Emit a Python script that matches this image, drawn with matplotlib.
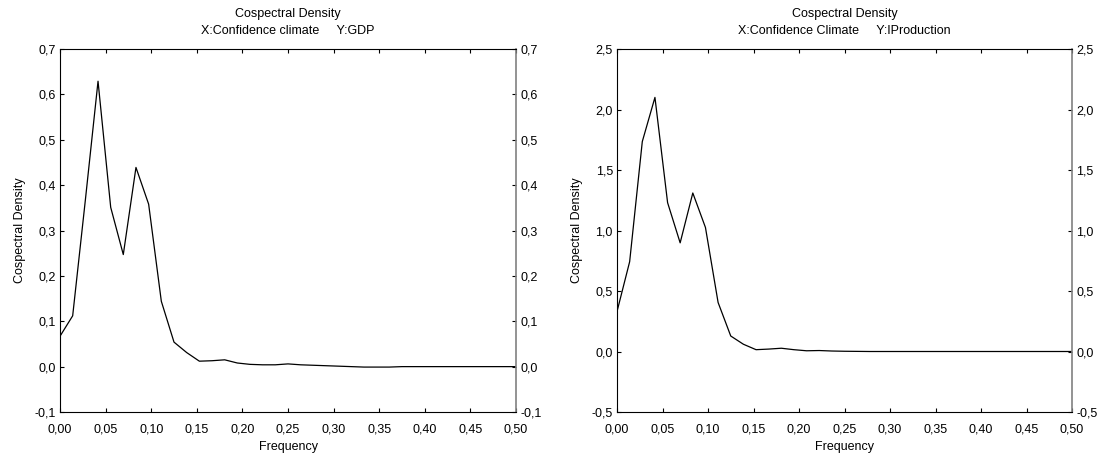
import matplotlib
matplotlib.use("Agg")
import matplotlib.pyplot as plt
from matplotlib.ticker import FuncFormatter

plt.rcParams["font.family"] = ["Liberation Sans", "DejaVu Sans"]
plt.rcParams["font.size"] = 9

# frequencies (k/72, k = 0..36)
freq = [0.0000, 0.0139, 0.0278, 0.0417, 0.0556, 0.0694, 0.0833, 0.0972, 0.1111,
        0.1250, 0.1389, 0.1528, 0.1667, 0.1806, 0.1944, 0.2083, 0.2222, 0.2361,
        0.2500, 0.2639, 0.2778, 0.2917, 0.3056, 0.3194, 0.3333, 0.3472, 0.3611,
        0.3750, 0.3889, 0.4028, 0.4167, 0.4306, 0.4444, 0.4583, 0.4722, 0.4861,
        0.5000]

# X: Confidence climate, Y: GDP
gdp = [0.067, 0.112, 0.367, 0.629, 0.351, 0.247, 0.439, 0.358, 0.144,
       0.054, 0.031, 0.012, 0.013, 0.015, 0.008, 0.005, 0.004, 0.004,
       0.006, 0.004, 0.003, 0.002, 0.001, 0.000, -0.001, -0.001, -0.001,
       0.000, 0.000, 0.000, 0.000, 0.000, 0.000, 0.000, 0.000, 0.000,
       0.000]

# X: Confidence climate, Y: IProduction
iprod = [0.33, 0.742, 1.735, 2.10, 1.23, 0.898, 1.31, 1.025, 0.405,
         0.128, 0.06, 0.015, 0.02, 0.027, 0.015, 0.006, 0.008, 0.004,
         0.002, 0.001, 0.000, 0.000, 0.000, 0.000, 0.000, 0.000, 0.000,
         0.000, 0.000, 0.000, 0.000, 0.000, 0.000, 0.000, 0.000, 0.000,
         0.000]

xticks = [0.00, 0.05, 0.10, 0.15, 0.20, 0.25, 0.30, 0.35, 0.40, 0.45, 0.50]
yticks_gdp = [-0.1, 0.0, 0.1, 0.2, 0.3, 0.4, 0.5, 0.6, 0.7]
yticks_iprod = [-0.5, 0.0, 0.5, 1.0, 1.5, 2.0, 2.5]

panels = [
    ([60, 49, 456, 363], gdp, yticks_gdp, "X:Confidence climate     Y:GDP"),
    ([617, 49, 455, 363], iprod, yticks_iprod, "X:Confidence Climate     Y:IProduction"),
]

W, H = 1105, 457
fig = plt.figure(figsize=(W / 100, H / 100), dpi=100)

comma2 = FuncFormatter(lambda v, p: f"{v:.2f}".replace(".", ","))
comma1 = FuncFormatter(lambda v, p: f"{v:.1f}".replace(".", ","))

for (x0, y0, w, h), vals, yt, sub in panels:
    ax = fig.add_axes([x0 / W, 1 - (y0 + h) / H, w / W, h / H])
    ax.plot(freq, vals, color="black", lw=0.9)
    ax.set_xlim(0, 0.5)
    ax.set_ylim(yt[0], yt[-1])
    ax.set_xticks(xticks)
    ax.set_yticks(yt)
    ax.xaxis.set_major_formatter(comma2)
    ax.yaxis.set_major_formatter(comma1)
    ax.tick_params(direction="in", length=3, width=0.8, top=True, right=True,
                   labelright=True, labelsize=9)
    ax.tick_params(axis="y", pad=3)
    ax.tick_params(axis="x", pad=8)
    for s in ["left", "top", "bottom"]:
        ax.spines[s].set_linewidth(0.8)
    ax.spines["right"].set_color("#808080")
    ax.spines["right"].set_linewidth(1.2)
    ax.set_title("Cospectral Density\n" + sub, fontsize=9, pad=11, linespacing=1.55)
    ax.set_xlabel("Frequency", labelpad=4)
    ax.set_ylabel("Cospectral Density", labelpad=6)

fig.savefig("out.png", dpi=100)
